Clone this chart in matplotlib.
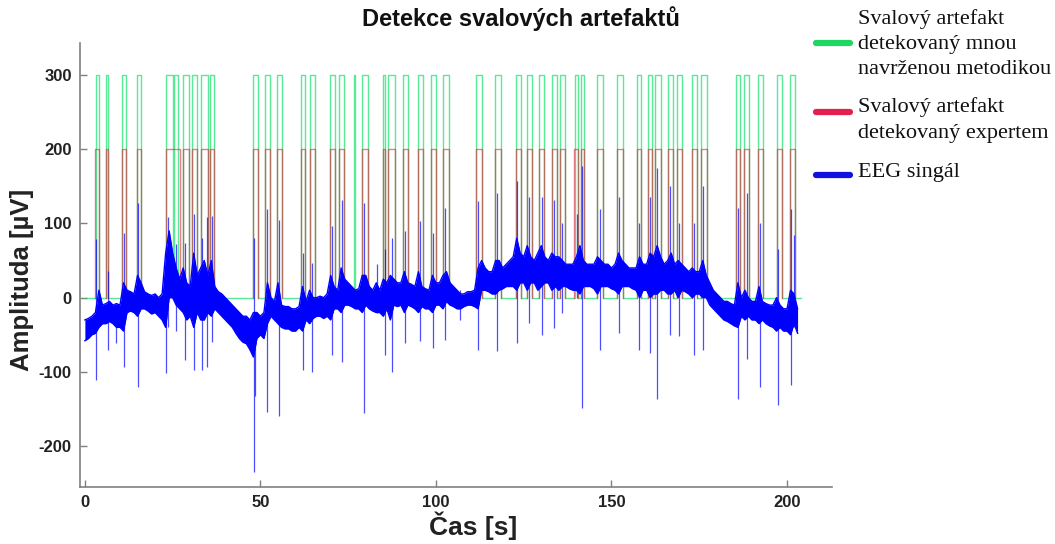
import numpy as np
import matplotlib
matplotlib.use("Agg")
import matplotlib.pyplot as plt
from matplotlib.lines import Line2D

plt.rcParams["axes.unicode_minus"] = False

# muscle artefact intervals [s] - proposed method (green) and expert (red)
green_start = [3.1, 6.0, 10.7, 14.8, 23.0, 25.5, 28.0, 30.5, 33.0, 35.6, 48.0, 51.3, 54.6, 61.5,
               64.0, 69.9, 72.5, 76.6, 78.9, 84.9, 86.3, 90.6, 94.9, 98.7, 102.1, 111.4, 116.9,
               122.8, 125.9, 129.4, 133.1, 135.3, 139.7, 141.2, 146.0, 151.5, 157.4, 160.5, 162.4,
               166.2, 168.6, 173.0, 175.6, 185.5, 187.7, 191.6, 197.0, 200.9]
green_end = [4.0, 6.7, 11.7, 15.9, 25.2, 26.4, 29.7, 32.0, 35.1, 36.8, 49.4, 52.7, 56.1, 62.8,
             65.5, 71.3, 73.8, 76.8, 80.7, 85.4, 88.2, 91.9, 96.2, 100.0, 103.8, 113.2, 118.4,
             124.2, 127.3, 130.9, 134.4, 136.8, 140.5, 142.3, 147.7, 153.2, 158.5, 161.6, 164.0,
             167.4, 170.0, 174.4, 177.1, 186.6, 189.1, 193.2, 198.5, 202.3]
red_start = [3.0, 6.0, 10.7, 14.8, 23.0, 28.0, 30.5, 33.0, 35.6, 48.0, 51.3, 54.6, 61.5,
             64.0, 69.9, 72.5, 78.9, 84.9, 86.3, 90.6, 94.9, 98.7, 102.1, 111.4, 116.9,
             122.8, 125.9, 129.4, 133.1, 135.3, 139.2, 141.2, 146.0, 151.5, 157.4, 160.5, 162.4,
             166.2, 168.6, 173.0, 175.6, 185.5, 187.7, 191.6, 197.0, 200.9]
red_end = [3.9, 6.7, 11.7, 15.9, 27.2, 29.7, 32.0, 35.1, 36.8, 49.4, 52.7, 56.1, 62.8,
           65.5, 71.3, 73.8, 80.7, 85.4, 88.2, 91.9, 96.2, 100.0, 103.8, 113.2, 118.4,
           124.2, 127.3, 130.9, 134.4, 136.8, 140.5, 142.3, 147.7, 153.2, 158.5, 161.6, 164.0,
           167.4, 170.0, 174.4, 177.1, 186.6, 189.1, 193.2, 198.5, 202.3]
t_end = 203.9

# EEG band, upper / lower envelope every second [uV]
eeg_hi = [-30, -28, -25, -20, 10, -10, -8, -5, -10, -8,
          -10, 20, 10, 8, 5, 30, 20, 8, 5, 3,
          5, 0, 5, 60, 90, 60, 40, 25, 40, 20,
          15, 60, 30, 40, 50, 30, 50, 15, 8, 5,
          0, -5, -10, -15, -20, -25, -25, -30, -20, -20,
          -25, -20, 20, 0, -5, 20, -10, -12, -12, -15,
          -15, -12, 15, -5, 10, 0, 0, 2, 0, 5,
          30, 15, 10, 40, 25, 20, 15, 10, 12, 30,
          30, 15, 10, 20, 10, 25, 20, 30, 25, 20,
          20, 35, 20, 18, 15, 35, 15, 12, 10, 30,
          20, 20, 30, 35, 20, 15, 10, 5, 5, 8,
          8, 10, 40, 50, 40, 35, 35, 50, 50, 40,
          45, 50, 55, 80, 60, 55, 70, 55, 50, 60,
          70, 55, 50, 60, 55, 55, 50, 45, 45, 45,
          55, 70, 50, 45, 45, 45, 55, 50, 45, 45,
          40, 45, 60, 50, 45, 40, 40, 40, 55, 45,
          45, 60, 55, 70, 55, 45, 50, 60, 45, 50,
          45, 40, 35, 40, 35, 35, 50, 30, 20, 10,
          5, 0, -5, -5, -8, -10, 20, 0, 10, 0,
          -5, -5, 15, -5, -8, -10, -10, 0, -10, -15,
          -15, 10, 5, -15]
eeg_lo = [-58, -55, -50, -48, -40, -35, -35, -32, -35, -40,
          -40, -45, -20, -18, -20, -25, -15, -15, -18, -22,
          -20, -25, -30, -40, 0, 0, -10, -15, -20, -30,
          -25, -40, -20, -30, -30, -20, -25, -15, -20, -25,
          -30, -35, -40, -48, -55, -60, -62, -70, -80, -55,
          -50, -55, -35, -25, -30, -35, -40, -42, -42, -45,
          -45, -40, -45, -30, -35, -28, -25, -25, -28, -25,
          -30, -15, -15, -20, -10, -10, -12, -15, -15, -20,
          -10, -15, -18, -20, -20, -25, -15, -30, -10, -12,
          -10, -20, -10, -12, -15, -20, -12, -15, -15, -20,
          -10, -10, -15, -5, -10, -12, -15, -15, -12, -10,
          -10, -12, -15, 10, 10, 8, 5, 5, 10, 12,
          15, 15, 15, 10, 20, 20, 10, 20, 20, 10,
          15, 20, 20, 10, 15, 10, 15, 15, 12, 10,
          10, 5, 15, 15, 15, 12, 5, 15, 15, 15,
          12, 10, 5, 15, 15, 15, 12, 10, 0, 10,
          10, 0, 5, 5, 10, 10, 5, 5, 10, 0,
          10, 8, 5, 0, 5, 5, 0, 0, -10, -15,
          -20, -25, -30, -32, -35, -38, -40, -25, -30, -25,
          -30, -30, -35, -30, -35, -38, -40, -45, -40, -45,
          -45, -50, -35, -48]
eeg_t = np.arange(len(eeg_hi))

# single sharp spikes: time [s], top and bottom [uV]
spike_t = [3.3, 6.5, 9.0, 11.1, 15.2, 23.1, 23.6, 25.9, 28.4, 31.0, 33.4, 34.7, 36.1,
           48.1, 48.5, 51.9, 55.4, 62.2, 64.6, 70.5, 73.2, 79.6, 83.1, 85.6, 87.6, 91.2,
           95.4, 99.1, 102.6, 106.8, 112.1, 117.4, 123.0, 126.5, 130.2, 133.6, 135.9,
           140.1, 141.6, 146.7, 152.2, 157.8, 160.9, 162.9, 166.6, 169.2, 173.6, 176.2,
           186.0, 188.6, 192.2, 197.3, 201.2, 202.0]
spike_hi = [79, 36, -20, 87, 128, 40, 108, 72, 74, 113, 81, 108, 110,
            81, -30, 119, 105, 60, 47, 96, 132, 128, 45, 65, 81, 90,
            103, 87, 121, 10, 130, 141, 157, 135, 135, 132, 101,
            112, 177, 119, 135, 101, 135, 175, 150, 101, 101, 150,
            121, 141, 101, 65, 119, 85]
spike_lo = [-111, -70, -61, -93, -120, -102, -40, -45, -84, -98, -97, -93, -60,
            -235, -133, -154, -160, -97, -100, -77, -86, -156, -20, -77, -100, -61,
            -59, -68, -57, -30, -70, -72, -61, -34, -50, -41, -21,
            0, -149, -70, -48, -70, -75, -136, -50, -52, -77, -70,
            -136, -82, -120, -145, -118, -40]


def pulses(starts, ends, level, baseline=True):
    # rectangular detection trace; without baseline only the pulses are drawn
    x = [0.0] if baseline else []
    y = [0.0] if baseline else []
    for a, b in zip(starts, ends):
        x += [a, a, b, b]
        y += [0, level, level, 0]
        if not baseline:
            x.append(np.nan)
            y.append(np.nan)
    if baseline:
        x.append(t_end)
        y.append(0)
    return x, y


fig = plt.figure(figsize=(10.55, 5.44), dpi=100)
ax = fig.add_axes([0.0758, 0.1048, 0.7128, 0.8162])

gx, gy = pulses(green_start, green_end, 300)
rx, ry = pulses(red_start, red_end, 200, baseline=False)
ax.plot(gx, gy, color="#00e060", lw=1.0, alpha=0.65, zorder=2)
ax.plot(rx, ry, color="#e8203c", lw=1.0, alpha=0.6, zorder=3)

blue = "#0000ff"
ax.fill_between(eeg_t, eeg_lo, eeg_hi, color=blue, lw=0, zorder=4)
ax.plot(eeg_t, eeg_hi, color=blue, lw=1.0, zorder=5)
ax.plot(eeg_t, eeg_lo, color=blue, lw=1.0, zorder=5)
ax.vlines(spike_t, spike_lo, spike_hi, color=blue, lw=0.9, alpha=0.7, zorder=5)

ax.set_xlim(-1.4, 212.8)
ax.set_ylim(-255, 343)
ax.set_xticks([0, 50, 100, 150, 200])
ax.set_yticks([-200, -100, 0, 100, 200, 300])
for s in ["top", "right"]:
    ax.spines[s].set_visible(False)
for s in ["left", "bottom"]:
    ax.spines[s].set_color("#808080")
    ax.spines[s].set_linewidth(1.2)
ax.tick_params(direction="in", length=5, width=1, color="#808080", pad=6)
for lab in ax.get_xticklabels() + ax.get_yticklabels():
    lab.set_fontfamily("Liberation Sans")
    lab.set_fontweight("bold")
    lab.set_fontsize(12)
    lab.set_color("#222222")

fig.text(521 / 1055, 1 - 19 / 544, "Detekce svalových artefaktů", ha="center", va="center",
         fontfamily="Liberation Sans", fontweight="bold", fontsize=17, color="#111111")
fig.text(473 / 1055, 1 - 526 / 544, "Čas [s]", ha="center", va="center",
         fontfamily="Liberation Sans", fontweight="bold", fontsize=19, color="#222222")
fig.text(22 / 1055, 1 - 280 / 544, "Amplituda [µV]", ha="center", va="center", rotation=90,
         fontfamily="Liberation Sans", fontweight="bold", fontsize=18.5, color="#222222")

# legend outside the axes
legend_items = [
    ("#1fd660", 43, "Svalový artefakt\ndetekovaný mnou\nnavrženou metodikou", 44),
    ("#e3204f", 112, "Svalový artefakt\ndetekovaný expertem", 120),
    ("#1010e0", 175, "EEG singál", 173),
]
for col, ly, txt, ty in legend_items:
    fig.add_artist(Line2D([816 / 1055, 850 / 1055], [1 - ly / 544, 1 - ly / 544], color=col,
                          lw=4.5, solid_capstyle="round", transform=fig.transFigure))
    fig.text(858 / 1055, 1 - ty / 544, txt, ha="left", va="center", fontfamily="Liberation Serif",
             fontsize=16, color="#111111", linespacing=1.45)

fig.savefig("out.png", dpi=100)
